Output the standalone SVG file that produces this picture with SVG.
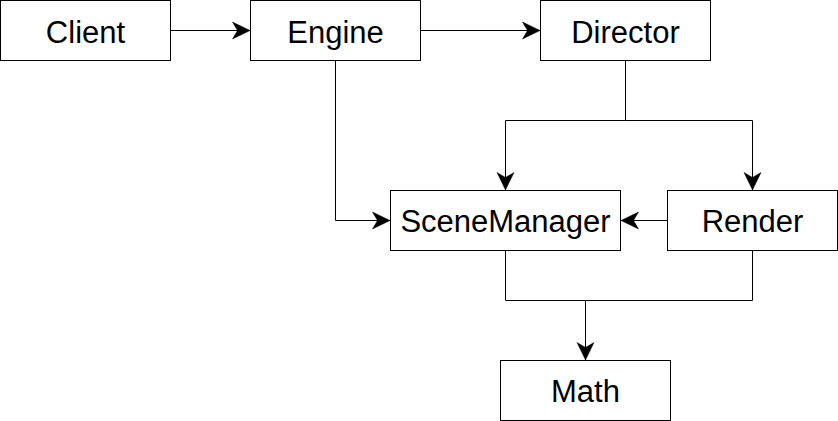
<svg xmlns="http://www.w3.org/2000/svg" width="838" height="421" viewBox="0 0 838 421">
<style>
.node rect{fill:#fff;stroke:#000;stroke-width:1}
.node text{font-family:"Liberation Sans",Arial,Helvetica,sans-serif;font-size:31px;fill:#000;text-anchor:middle}
.edge{fill:none;stroke:#000;stroke-width:1}
</style>
<defs>
<marker id="arr" markerUnits="userSpaceOnUse" markerWidth="22" markerHeight="22" viewBox="-20 -11 22 22" refX="0" refY="0" orient="auto">
<path d="M0,0 L-17.5,-8.5 L-12.5,0 L-17.5,8.5 Z" fill="#000" stroke="#000" stroke-width="0.5"/>
</marker>
</defs>
<g id="connectors">
<path class="edge" d="M170.5,30.5 H250" marker-end="url(#arr)"/>
<path class="edge" d="M420.5,30.5 H540" marker-end="url(#arr)"/>
<path class="edge" d="M335.5,60.5 V220.5 H390" marker-end="url(#arr)"/>
<path class="edge" d="M625.5,60.5 V120.5 H505.5 V190" marker-end="url(#arr)"/>
<path class="edge" d="M625.5,120.5 H752.5 V190" marker-end="url(#arr)"/>
<path class="edge" d="M667.5,220.5 H621" marker-end="url(#arr)"/>
<path class="edge" d="M505.5,250.5 V300.5 H585.5 V360" marker-end="url(#arr)"/>
<path class="edge" d="M752.5,250.5 V300.5 H585.5"/>
</g>
<g id="client" class="node"><rect x="0.5" y="0.5" width="170" height="60"/><text x="85.5" y="42.5">Client</text></g>
<g id="engine" class="node"><rect x="250.5" y="0.5" width="170" height="60"/><text x="335.5" y="42.5">Engine</text></g>
<g id="director" class="node"><rect x="540.5" y="0.5" width="170" height="60"/><text x="625.5" y="42.5">Director</text></g>
<g id="scenemanager" class="node"><rect x="390.5" y="190.5" width="230" height="60"/><text x="505.5" y="232">SceneManager</text></g>
<g id="render" class="node"><rect x="667.5" y="190.5" width="170" height="60"/><text x="752.5" y="232">Render</text></g>
<g id="math" class="node"><rect x="500.5" y="360.5" width="170" height="60"/><text x="585.5" y="402">Math</text></g>
</svg>
